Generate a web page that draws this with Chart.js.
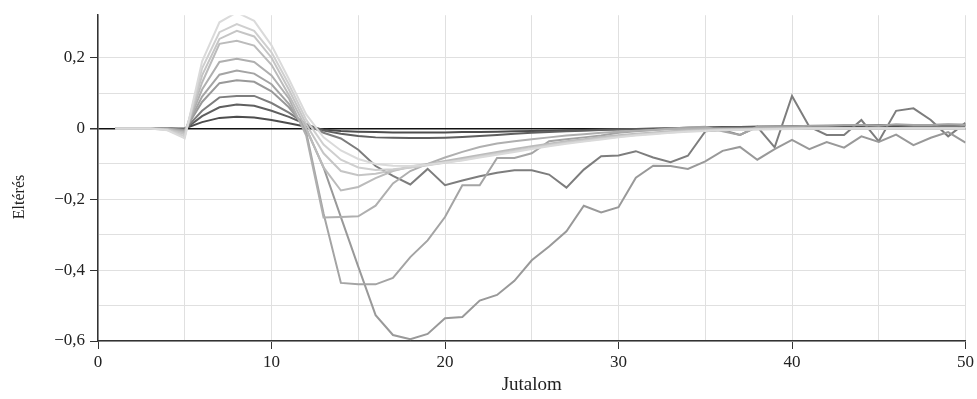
<!DOCTYPE html>
<html>
<head>
<meta charset="utf-8">
<script src="https://cdn.jsdelivr.net/npm/chart.js@4/dist/chart.umd.min.js"></script>
<style>
  html, body { margin: 0; padding: 0; background: #fff; }
  #wrap { width: 977px; height: 399px; position: relative; }
</style>
</head>
<body>
<div id="wrap"><canvas id="chart"></canvas></div>
<script>
// --------------------------------------
// Data
// --------------------------------------
const rewards = [1, 2, 3, 4, 5, 6, 7, 8, 9, 10, 11, 12, 13, 14, 15, 16, 17, 18, 19, 20,
  21, 22, 23, 24, 25, 26, 27, 28, 29, 30, 31, 32, 33, 34, 35, 36, 37, 38, 39, 40,
  41, 42, 43, 44, 45, 46, 47, 48, 49, 50];

const dev1 = [0, 0, 0, 0, 0, 0.018, 0.03, 0.033, 0.031, 0.024,
  0.015, 0.005, -0.003, -0.007, -0.009, -0.01, -0.011, -0.011, -0.011, -0.011,
  -0.01, -0.01, -0.009, -0.008, -0.007, -0.006, -0.005, -0.004, -0.003, -0.002,
  -0.001, 0, 0.001, 0.002, 0.003, 0.004, 0.004, 0.005, 0.005, 0.006,
  0.006, 0.006, 0.007, 0.007, 0.007, 0.007, 0.008, 0.008, 0.008, 0.008];
const dev2 = [0, 0, 0, 0, -0.002, 0.035, 0.06, 0.068, 0.064, 0.05,
  0.033, 0.012, -0.006, -0.015, -0.021, -0.025, -0.026, -0.027, -0.027, -0.026,
  -0.024, -0.021, -0.018, -0.015, -0.012, -0.01, -0.008, -0.006, -0.004, -0.003,
  -0.002, -0.001, 0, 0.001, 0.002, 0.003, 0.004, 0.005, 0.006, 0.006,
  0.007, 0.008, 0.008, 0.009, 0.009, 0.01, 0.01, 0.01, 0.011, 0.011];
const dev3 = [0, 0, 0, 0, -0.003, 0.05, 0.088, 0.092, 0.092, 0.072,
  0.045, 0.012, -0.012, -0.028, -0.06, -0.106, -0.134, -0.158, -0.114, -0.16,
  -0.147, -0.135, -0.125, -0.118, -0.118, -0.13, -0.167, -0.116, -0.078, -0.076,
  -0.064, -0.082, -0.095, -0.077, -0.008, -0.004, -0.018, 0.005, -0.053, 0.092,
  0.005, -0.018, -0.018, 0.024, -0.036, 0.05, 0.057, 0.024, -0.022, 0.016];
const dev4 = [0, 0, 0, 0, -0.005, 0.075, 0.128, 0.136, 0.132, 0.105,
  0.06, 0.0, -0.11, -0.25, -0.39, -0.527, -0.583, -0.595, -0.58, -0.536,
  -0.532, -0.486, -0.47, -0.43, -0.372, -0.333, -0.29, -0.218, -0.237, -0.222,
  -0.139, -0.105, -0.106, -0.114, -0.093, -0.063, -0.052, -0.088, -0.058, -0.032,
  -0.058, -0.038, -0.054, -0.022, -0.038, -0.017, -0.047, -0.026, -0.01, -0.04];
const dev5 = [0, 0, 0, 0, -0.007, 0.09, 0.152, 0.164, 0.155, 0.125,
  0.07, -0.01, -0.24, -0.436, -0.44, -0.44, -0.422, -0.363, -0.316, -0.25,
  -0.16, -0.16, -0.083, -0.083, -0.07, -0.036, -0.03, -0.025, -0.02, -0.012,
  -0.008, -0.004, 0, 0.003, 0.005, -0.008, -0.018, 0.005, 0.006, 0.006,
  0.008, 0.008, 0.01, 0.01, 0.008, 0.012, 0.01, 0.01, 0.012, 0.01];
const dev6 = [0, 0, 0, -0.001, -0.009, 0.11, 0.188, 0.197, 0.188, 0.15,
  0.085, -0.02, -0.251, -0.25, -0.248, -0.218, -0.155, -0.12, -0.1, -0.082,
  -0.066, -0.052, -0.042, -0.036, -0.03, -0.025, -0.02, -0.016, -0.012, -0.009,
  -0.006, -0.004, -0.002, -0.001, 0, 0, 0, 0, 0, 0,
  0, 0, 0, 0, 0, 0, 0, 0, 0, 0];
const dev7 = [0, 0, 0, -0.002, -0.012, 0.13, 0.239, 0.248, 0.234, 0.18,
  0.095, 0.0, -0.11, -0.175, -0.165, -0.14, -0.12, -0.107, -0.1, -0.092,
  -0.083, -0.075, -0.066, -0.058, -0.05, -0.043, -0.036, -0.03, -0.024, -0.019,
  -0.015, -0.011, -0.008, -0.005, -0.003, -0.002, -0.001, 0, 0, 0,
  0, 0, 0, 0, 0, 0, 0, 0, 0, 0];
const dev8 = [0, 0, 0, -0.003, -0.016, 0.15, 0.253, 0.276, 0.26, 0.2,
  0.11, 0.012, -0.07, -0.12, -0.132, -0.128, -0.118, -0.11, -0.103, -0.095,
  -0.087, -0.078, -0.07, -0.062, -0.054, -0.046, -0.039, -0.033, -0.027, -0.022,
  -0.017, -0.013, -0.01, -0.007, -0.005, -0.003, -0.002, -0.001, 0, 0,
  0, 0, 0, 0, 0, 0, 0, 0, 0, 0];
const dev9 = [0, 0, 0, -0.004, -0.022, 0.17, 0.272, 0.295, 0.276, 0.215,
  0.125, 0.025, -0.045, -0.088, -0.11, -0.117, -0.115, -0.11, -0.104, -0.097,
  -0.089, -0.08, -0.072, -0.064, -0.056, -0.048, -0.041, -0.035, -0.029, -0.023,
  -0.018, -0.014, -0.011, -0.008, -0.006, -0.004, -0.003, -0.002, -0.001, 0,
  0, 0, 0, 0, 0, 0, 0, 0, 0, 0];
const dev10 = [0, 0, 0, -0.005, -0.028, 0.19, 0.3, 0.328, 0.304, 0.235,
  0.14, 0.04, -0.025, -0.062, -0.086, -0.1, -0.105, -0.106, -0.102, -0.096,
  -0.09, -0.082, -0.074, -0.066, -0.058, -0.05, -0.043, -0.037, -0.031, -0.025,
  -0.02, -0.016, -0.012, -0.009, -0.007, -0.005, -0.004, -0.003, -0.002, -0.001,
  0, 0, 0, 0, 0, 0, 0, 0, 0, 0];

// dark -> light
const seriesList = [dev1, dev2, dev3, dev4, dev5, dev6, dev7, dev8, dev9, dev10];
const seriesColors = ['#4d4d4d', '#5f5f5f', '#7d7d7d', '#999999', '#a4a4a4',
  '#afafaf', '#bbbbbb', '#c5c5c5', '#cfcfcf', '#dadada'];

const X_TITLE = 'Jutalom';
const Y_TITLE = 'Eltérés';

// --------------------------------------
// Helpers
// --------------------------------------
const FONT = "'Liberation Serif', 'Times New Roman', serif";

function isMultiple(v, step) {
  const r = v / step;
  return Math.abs(r - Math.round(r)) < 1e-6;
}

function fmtY(v) {
  if (Math.abs(v) < 1e-9) return '0';
  return v.toFixed(1).replace('.', ',').replace('-', '\u2212');
}

// y title drawn a bit below the chart-area centre, like the reference
const yTitlePlugin = {
  id: 'yTitle',
  afterDraw(chart) {
    const ctx = chart.ctx;
    ctx.save();
    ctx.translate(20, 197);
    ctx.rotate(-Math.PI / 2);
    ctx.font = '16px ' + FONT;
    ctx.fillStyle = '#222';
    ctx.textAlign = 'center';
    ctx.textBaseline = 'middle';
    ctx.fillText(Y_TITLE, 0, 0);
    ctx.restore();
  }
};

// light lines first so they are drawn on top
const datasets = seriesList.map((arr, i) => ({
  data: arr.map((v, j) => ({ x: rewards[j], y: v })),
  borderColor: seriesColors[i],
  borderWidth: 2,
  pointRadius: 0,
  tension: 0,
  fill: false
})).reverse();

new Chart(document.getElementById('chart').getContext('2d'), {
  type: 'line',
  data: { datasets },
  plugins: [yTitlePlugin],
  options: {
    responsive: true,
    maintainAspectRatio: false,
    animation: false,
    layout: { padding: { top: 13, right: 11, left: 0, bottom: 0 } },
    plugins: { legend: { display: false }, tooltip: { enabled: false } },
    scales: {
      x: {
        type: 'linear',
        min: 0,
        max: 50,
        afterFit(scale) { scale.height = 58; },
        border: { display: true, color: '#333', width: 1.5 },
        grid: {
          color: '#e0e0e0',
          lineWidth: 1,
          tickLength: 8,
          tickColor: ctx => isMultiple(ctx.tick.value, 10) ? '#333' : 'rgba(0,0,0,0)'
        },
        ticks: {
          stepSize: 5,
          autoSkip: false,
          maxRotation: 0,
          padding: 3,
          color: '#222',
          font: { family: FONT, size: 17 },
          callback: v => isMultiple(v, 10) ? String(v) : ''
        },
        title: {
          display: true,
          text: X_TITLE,
          color: '#222',
          font: { family: FONT, size: 19 },
          padding: { top: 0, bottom: 3 }
        }
      },
      y: {
        type: 'linear',
        min: -0.6,
        max: 0.32,
        afterFit(scale) { scale.width = 98; },
        afterBuildTicks(scale) {
          scale.ticks = scale.ticks.filter(t => isMultiple(t.value, 0.1));
        },
        border: { display: true, color: '#333', width: 1.5 },
        grid: {
          color: ctx => Math.abs(ctx.tick.value) < 1e-9 ? '#111' : '#e0e0e0',
          lineWidth: ctx => Math.abs(ctx.tick.value) < 1e-9 ? 1.5 : 1,
          tickLength: 8,
          tickColor: ctx => isMultiple(ctx.tick.value, 0.2) ? '#333' : 'rgba(0,0,0,0)'
        },
        ticks: {
          stepSize: 0.1,
          autoSkip: false,
          padding: 5,
          color: '#222',
          font: { family: FONT, size: 17 },
          callback: v => isMultiple(v, 0.2) ? fmtY(v) : ''
        }
      }
    }
  }
});
</script>
</body>
</html>
